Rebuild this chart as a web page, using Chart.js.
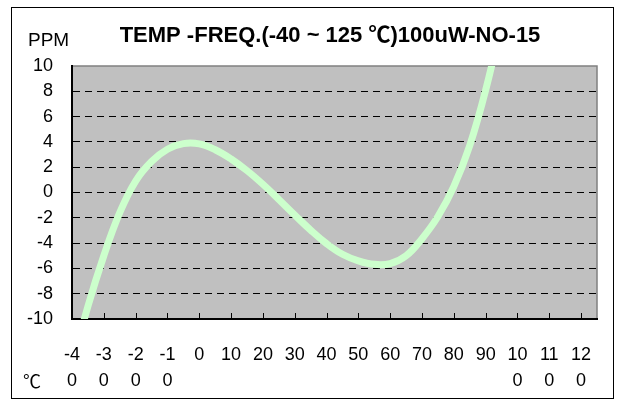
<!DOCTYPE html>
<html>
<head>
<meta charset="utf-8">
<script src="https://cdn.jsdelivr.net/npm/chart.js@4.4.0/dist/chart.umd.min.js"></script>
<style>
html,body{margin:0;padding:0;background:#fff;}
canvas{display:block;}
</style>
</head>
<body>
<canvas id="c" width="630" height="405"></canvas>
<script>
// ---- data ----
const chartTitle = "TEMP -FREQ.(-40 ~ 125 \u2103)100uW-NO-15";
const yAxisTitle = "PPM";
const xAxisTitle = "\u2103";
const tempValues = [-40,-35,-30,-25,-20,-15,-10,-5,0,5,10,15,20,25,30,35,40,45,50,55,60,65,70,75,80,85,90,95,100];
const ppmValues  = [-13.7,-9.0,-5.0,-1.6,0.9,2.45,3.42,3.86,3.84,3.38,2.65,1.73,0.65,-0.55,-1.78,-2.97,-4.04,-4.88,-5.4,-5.68,-5.62,-5.0,-3.65,-1.9,0.47,3.71,8.09,13.5,20.0];
const xTickValues = [-40,-30,-20,-10,0,10,20,30,40,50,60,70,80,90,100,110,120];
const xTickLabels = [["-4","0"],["-3","0"],["-2","0"],["-1","0"],"0","10","20","30","40","50","60","70","80","90",["10","0"],["11","0"],["12","0"]];
const yTickValues = [-10,-8,-6,-4,-2,0,2,4,6,8,10];
const xMin = -40, xMax = 125, yMin = -10, yMax = 10;

const FONT = "'Liberation Sans', Arial, 'Noto Sans CJK SC', sans-serif";

const decor = {
  id: 'decor',
  beforeDraw(chart) {
    const {ctx, chartArea: a} = chart;
    ctx.save();
    ctx.fillStyle = '#ffffff';
    ctx.fillRect(0, 0, chart.width, chart.height);
    ctx.fillStyle = '#C0C0C0';
    ctx.fillRect(a.left, a.top, a.right - a.left, a.bottom - a.top);
    ctx.strokeStyle = '#808080';
    ctx.lineWidth = 1.5;
    ctx.strokeRect(a.left, a.top, a.right - a.left, a.bottom - a.top);
    ctx.strokeStyle = '#000';
    ctx.lineWidth = 1;
    ctx.strokeRect(11.5, 7.5, 602, 391);
    ctx.restore();
  },
  beforeDatasetsDraw(chart) {
    const {ctx, chartArea: a} = chart;
    const xs = chart.scales.x;
    ctx.save();
    ctx.strokeStyle = '#000';
    ctx.lineWidth = 1;
    xs.ticks.forEach((t, i) => {
      if (i === 0) return;
      const px = Math.round(xs.getPixelForValue(t.value)) + 0.5;
      ctx.beginPath();
      ctx.moveTo(px, a.bottom);
      ctx.lineTo(px, a.bottom - 6);
      ctx.stroke();
    });
    ctx.restore();
  },
  afterDraw(chart) {
    const ctx = chart.ctx;
    ctx.save();
    ctx.fillStyle = '#000';
    ctx.textBaseline = 'alphabetic';
    ctx.textAlign = 'center';
    ctx.font = "bold 22px " + FONT;
    ctx.fillText(chartTitle, 330, 41.5);
    ctx.textAlign = 'left';
    ctx.font = "19px " + FONT;
    ctx.fillText(yAxisTitle, 28, 45.5);
    ctx.font = "18px 'Noto Sans CJK SC', 'DejaVu Sans', sans-serif";
    ctx.fillText(xAxisTitle, 23, 388);
    ctx.restore();
  }
};

new Chart(document.getElementById('c'), {
  type: 'line',
  data: {
    datasets: [{
      data: tempValues.map((t, i) => ({x: t, y: ppmValues[i]})),
      borderColor: '#CCFFCC',
      borderWidth: 7,
      pointRadius: 0,
      fill: false,
      tension: 0.4,
      clip: 0
    }]
  },
  options: {
    responsive: false,
    animation: false,
    devicePixelRatio: 1,
    layout: {padding: {left: 0, right: 33, top: 66, bottom: 0}},
    plugins: {legend: {display: false}, tooltip: {enabled: false}, title: {display: false}},
    scales: {
      x: {
        type: 'linear',
        min: xMin, max: xMax,
        afterBuildTicks: s => { s.ticks = xTickValues.map(v => ({value: v})); },
        afterFit: s => { s.height = 86; },
        grid: {display: false, drawTicks: false},
        border: {display: true, color: '#000', width: 2},
        ticks: {
          autoSkip: false, maxRotation: 0, minRotation: 0,
          padding: 23, color: '#000',
          font: {family: FONT, size: 18, lineHeight: 26/18},
          callback: (v, i) => xTickLabels[i]
        }
      },
      y: {
        type: 'linear',
        min: yMin, max: yMax,
        afterBuildTicks: s => { s.ticks = yTickValues.map(v => ({value: v})); },
        afterFit: s => { s.width = 72; },
        grid: {
          drawTicks: false,
          lineWidth: 1,
          color: c => (c.tick && Math.abs(c.tick.value) === 10) ? 'rgba(0,0,0,0)' : '#000'
        },
        border: {display: true, color: '#000', width: 2, dash: [7, 5]},
        ticks: {
          padding: 19, color: '#000',
          font: {family: FONT, size: 18},
          callback: (v) => String(v)
        }
      }
    }
  },
  plugins: [decor]
});
</script>
</body>
</html>
